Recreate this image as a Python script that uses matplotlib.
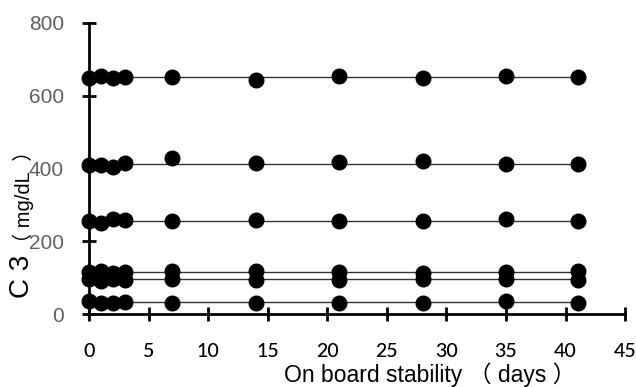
import matplotlib
matplotlib.use("Agg")
import matplotlib.pyplot as plt

days = [0, 1, 2, 3, 7, 14, 21, 28, 35, 41]
level1 = [650, 654, 648, 652, 652, 642, 655, 648, 655, 652]
level2 = [410, 410, 405, 415, 428, 415, 418, 420, 412, 413]
level3 = [255, 250, 262, 258, 255, 258, 257, 256, 262, 257]
level4 = [115, 117, 114, 115, 118, 117, 116, 112, 116, 117]
level5 = [95, 92, 95, 94, 96, 93, 93, 95, 95, 94]
level6 = [35, 30, 30, 33, 30, 30, 30, 30, 37, 30]
baselines = [652, 413, 257, 115, 96, 32]
series = [level1, level2, level3, level4, level5, level6]

yticks = [0, 200, 400, 600, 800]
xticks = [0, 5, 10, 15, 20, 25, 30, 35, 40, 45]

W, H = 636, 387
fig = plt.figure(figsize=(W / 100, H / 100), dpi=100)
ax = fig.add_axes([0.14, 0.1886, 0.843, 0.752])

for vals, base in zip(series, baselines):
    ax.plot([days[0], days[-1]], [base, base], color='#333333', lw=1.0, zorder=2)
    ax.plot(days, vals, 'o', color='black', ms=10.5, zorder=3, clip_on=False)

ax.set_xlim(0, 45)
ax.set_ylim(0, 800)
ax.spines['top'].set_visible(False)
ax.spines['right'].set_visible(False)
for s in ['left', 'bottom']:
    ax.spines[s].set_linewidth(2.0)
    ax.spines[s].set_color('black')

ax.set_yticks(yticks)
ax.set_yticklabels([str(v) for v in yticks], family='Liberation Sans',
                   fontsize=15, color='#606060')
ax.set_xticks(xticks)
ax.set_xticklabels([str(v) for v in xticks], family='Lato', fontsize=14,
                   color='black', fontweight='medium')
ax.tick_params(axis='y', direction='inout', length=10, width=2, pad=13)
ax.tick_params(axis='x', direction='inout', length=10, width=2, pad=16)

# y label: "C 3" in larger type, then unit in parentheses
fam = ['Liberation Sans', 'Noto Sans CJK SC']
xl = 22 / W
t1 = fig.text(xl, 1 - 298 / H, 'C 3', rotation=90, rotation_mode='anchor',
              ha='left', va='center', fontsize=20, family=fam, color='black')
fig.canvas.draw()
r = fig.canvas.get_renderer()
bb = t1.get_window_extent(r)
ytop = bb.y1 / H
fig.text(xl + 1 / W, ytop + 2 / H, '（ mg/dL  ）', rotation=90,
         rotation_mode='anchor', ha='left', va='center', fontsize=14.5,
         family=fam, color='black')

fig.text(430 / W, 1 - 382 / H, 'On board stability （ days ）', ha='center',
         va='baseline', fontsize=16.5, family=fam, color='black')

fig.savefig('out.png', dpi=100)
